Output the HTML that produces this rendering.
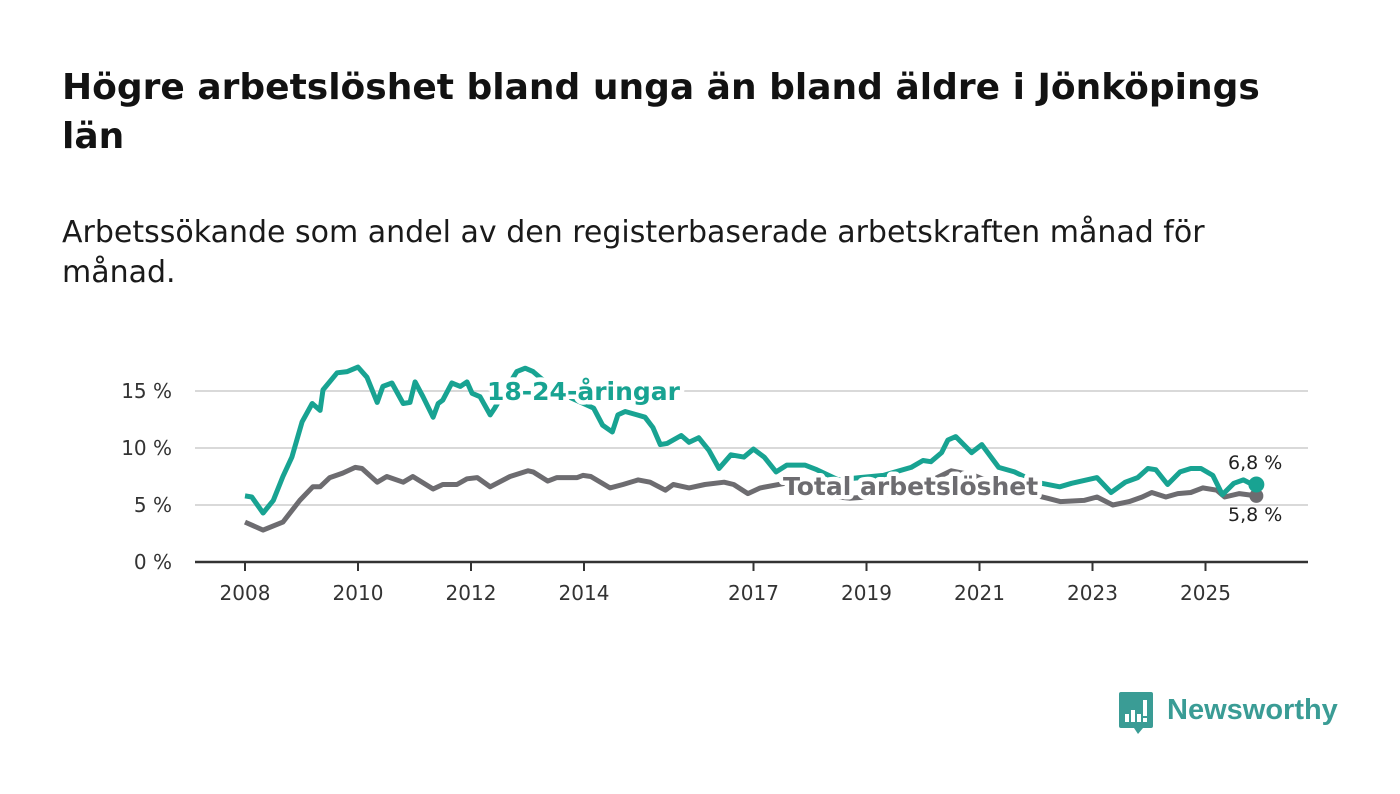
<!DOCTYPE html>
<html><head><meta charset="utf-8">
<style>
html,body{margin:0;padding:0;background:#fff;}
body{width:1400px;height:794px;position:relative;overflow:hidden;font-family:"DejaVu Sans","Liberation Sans",sans-serif;color:#111;}
#title{position:absolute;left:62px;top:63px;width:1250px;font-size:36px;font-weight:bold;line-height:49px;margin:0;color:#121212;}
#subtitle{position:absolute;left:62px;top:213px;width:1240px;font-size:30px;line-height:40px;margin:0;color:#1a1a1a;}
svg{position:absolute;left:0;top:0;}
</style></head>
<body>
<h1 id="title">Högre arbetslöshet bland unga än bland äldre i Jönköpings län</h1>
<p id="subtitle">Arbetssökande som andel av den registerbaserade arbetskraften månad för månad.</p>
<svg id="chart" width="1400" height="794"></svg>
<div style="position:absolute;left:1119px;top:692px;height:44px;">
  <svg width="36" height="44" style="position:absolute;left:0;top:0">
    <path d="M2 0 H32 Q34 0 34 2 V34 Q34 36 32 36 H24 L19 42 L15 36 H2 Q0 36 0 34 V2 Q0 0 2 0 Z" fill="#3a9c95"/>
    <rect x="6" y="22" width="4" height="8" fill="#fff"/><rect x="12" y="18" width="4" height="12" fill="#fff"/>
    <rect x="18" y="22" width="4" height="8" fill="#fff"/><rect x="24" y="8" width="4" height="16" fill="#fff"/><rect x="24" y="26" width="4" height="4" fill="#fff"/>
  </svg>
  <span style="position:absolute;left:48px;top:0;font-family:'Liberation Sans',sans-serif;font-size:29px;font-weight:bold;color:#3a9c95;white-space:nowrap;line-height:36px;">Newsworthy</span>
</div>
<script>
const youthYears=[2008.0,2008.12,2008.32,2008.5,2008.67,2008.83,2009.01,2009.19,2009.33,2009.38,2009.63,2009.81,2010.0,2010.16,2010.34,2010.44,2010.6,2010.8,2010.92,2011.01,2011.15,2011.33,2011.42,2011.5,2011.66,2011.81,2011.93,2012.02,2012.16,2012.34,2012.42,2012.81,2012.96,2013.1,2013.5,2014.17,2014.33,2014.5,2014.6,2014.73,2014.94,2015.08,2015.22,2015.35,2015.47,2015.72,2015.86,2016.03,2016.21,2016.39,2016.6,2016.83,2017.0,2017.19,2017.4,2017.59,2017.91,2018.12,2018.5,2018.88,2019.3,2019.79,2020.0,2020.14,2020.33,2020.44,2020.58,2020.86,2021.04,2021.34,2021.62,2022.0,2022.42,2022.63,2023.08,2023.33,2023.58,2023.8,2023.98,2024.12,2024.33,2024.55,2024.74,2024.92,2025.13,2025.3,2025.5,2025.67,2025.83,2025.9];
const youthValues=[5.8,5.7,4.3,5.4,7.5,9.2,12.3,13.9,13.3,15.1,16.6,16.7,17.1,16.2,14.0,15.4,15.7,13.9,14.0,15.8,14.5,12.7,13.9,14.2,15.7,15.4,15.8,14.8,14.5,12.9,13.5,16.7,17.0,16.7,15.0,13.5,12.0,11.4,12.9,13.2,12.9,12.7,11.8,10.3,10.4,11.1,10.5,10.9,9.8,8.2,9.4,9.2,9.9,9.2,7.9,8.5,8.5,8.1,7.2,7.4,7.6,8.3,8.9,8.8,9.6,10.7,11.0,9.6,10.3,8.3,7.9,7.0,6.6,6.9,7.4,6.1,7.0,7.4,8.2,8.1,6.8,7.9,8.2,8.2,7.6,5.9,6.9,7.2,6.8,6.8];
const totalYears=[2008.0,2008.32,2008.67,2008.97,2009.2,2009.33,2009.5,2009.73,2009.95,2010.07,2010.34,2010.51,2010.8,2010.97,2011.33,2011.5,2011.75,2011.93,2012.11,2012.34,2012.69,2013.01,2013.1,2013.36,2013.52,2013.88,2013.98,2014.12,2014.46,2014.69,2014.96,2015.17,2015.44,2015.58,2015.86,2016.14,2016.48,2016.65,2016.9,2017.12,2017.56,2017.77,2017.91,2018.3,2018.7,2019.0,2019.5,2020.0,2020.5,2020.9,2021.3,2021.7,2022.2,2022.43,2022.85,2023.08,2023.36,2023.65,2023.88,2024.05,2024.3,2024.51,2024.74,2024.95,2025.2,2025.34,2025.6,2025.9];
const totalValues=[3.5,2.8,3.5,5.4,6.6,6.6,7.4,7.8,8.3,8.2,7.0,7.5,7.0,7.5,6.4,6.8,6.8,7.3,7.4,6.6,7.5,8.0,7.9,7.1,7.4,7.4,7.6,7.5,6.5,6.8,7.2,7.0,6.3,6.8,6.5,6.8,7.0,6.8,6.0,6.5,6.9,6.6,6.1,5.8,5.6,5.7,6.0,6.8,8.0,7.6,6.8,6.2,5.6,5.3,5.4,5.7,5.0,5.3,5.7,6.1,5.7,6.0,6.1,6.5,6.3,5.7,6.0,5.8];
const yTicks=[0,5,10,15];
const yTickLabels=["0 %","5 %","10 %","15 %"];
const xTicks=[2008,2010,2012,2014,2017,2019,2021,2023,2025];

const NS="http://www.w3.org/2000/svg";
const FONT="DejaVu Sans, Liberation Sans, sans-serif";
const svg=document.getElementById('chart');
const x=y=>245+(y-2008)*56.5;
const yS=v=>562-v*11.4;
function mk(tag,attrs){const e=document.createElementNS(NS,tag);for(const k in attrs)e.setAttribute(k,attrs[k]);svg.appendChild(e);return e;}

yTicks.forEach((t,i)=>{
  if(t>0){const g=mk('line',{x1:195,x2:1308,y1:yS(t),y2:yS(t),stroke:'#d9d9d9','stroke-width':2});
  
  }
  const l=mk('text',{x:172,y:yS(t)+7,'text-anchor':'end','font-size':20,fill:'#333','font-family':FONT});
  l.textContent=yTickLabels[i];
  
  
});
const ax=mk('line',{x1:195,x2:1308,y1:562,y2:562,stroke:'#333','stroke-width':2.5});


xTicks.forEach(t=>{
  const tk=mk('line',{x1:x(t),x2:x(t),y1:562,y2:571,stroke:'#333','stroke-width':2});
  
  
  const l=mk('text',{x:x(t),y:600,'text-anchor':'middle','font-size':20,fill:'#333','font-family':FONT});
  l.textContent=t;
  
  
});
function path(xs,vs){return xs.map((t,i)=>(i?'L':'M')+x(t).toFixed(1)+' '+yS(vs[i]).toFixed(1)).join(' ');}
const pt=mk('path',{d:path(totalYears,totalValues),fill:'none',stroke:'#6d6c70','stroke-width':5,'stroke-linejoin':'round'});


const py=mk('path',{d:path(youthYears,youthValues),fill:'none',stroke:'#18a392','stroke-width':5,'stroke-linejoin':'round'});


const lx=x(totalYears[totalYears.length-1]);
const d2=mk('circle',{cx:lx,cy:yS(totalValues[totalValues.length-1]),r:7,fill:'#6d6c70'});


const d1=mk('circle',{cx:x(youthYears[youthYears.length-1]),cy:yS(youthValues[youthValues.length-1]),r:8,fill:'#18a392'});


const e1=mk('text',{x:1228,y:469,'font-size':19,fill:'#222','font-family':FONT});
e1.textContent=String(youthValues[youthValues.length-1]).replace('.',',')+' %';


const e2=mk('text',{x:1228,y:521,'font-size':19,fill:'#222','font-family':FONT});
e2.textContent=String(totalValues[totalValues.length-1]).replace('.',',')+' %';


const s1=mk('text',{x:487,y:400,'font-size':25,'font-weight':'bold',fill:'#18a392',stroke:'#fff','stroke-width':9,'paint-order':'stroke','stroke-linejoin':'round','font-family':FONT});
s1.textContent='18-24-åringar';


const s2=mk('text',{x:783,y:495,'font-size':25,'font-weight':'bold',fill:'#6d6c70',stroke:'#fff','stroke-width':9,'paint-order':'stroke','stroke-linejoin':'round','font-family':FONT});
s2.textContent='Total arbetslöshet';


</script>
</body></html>
